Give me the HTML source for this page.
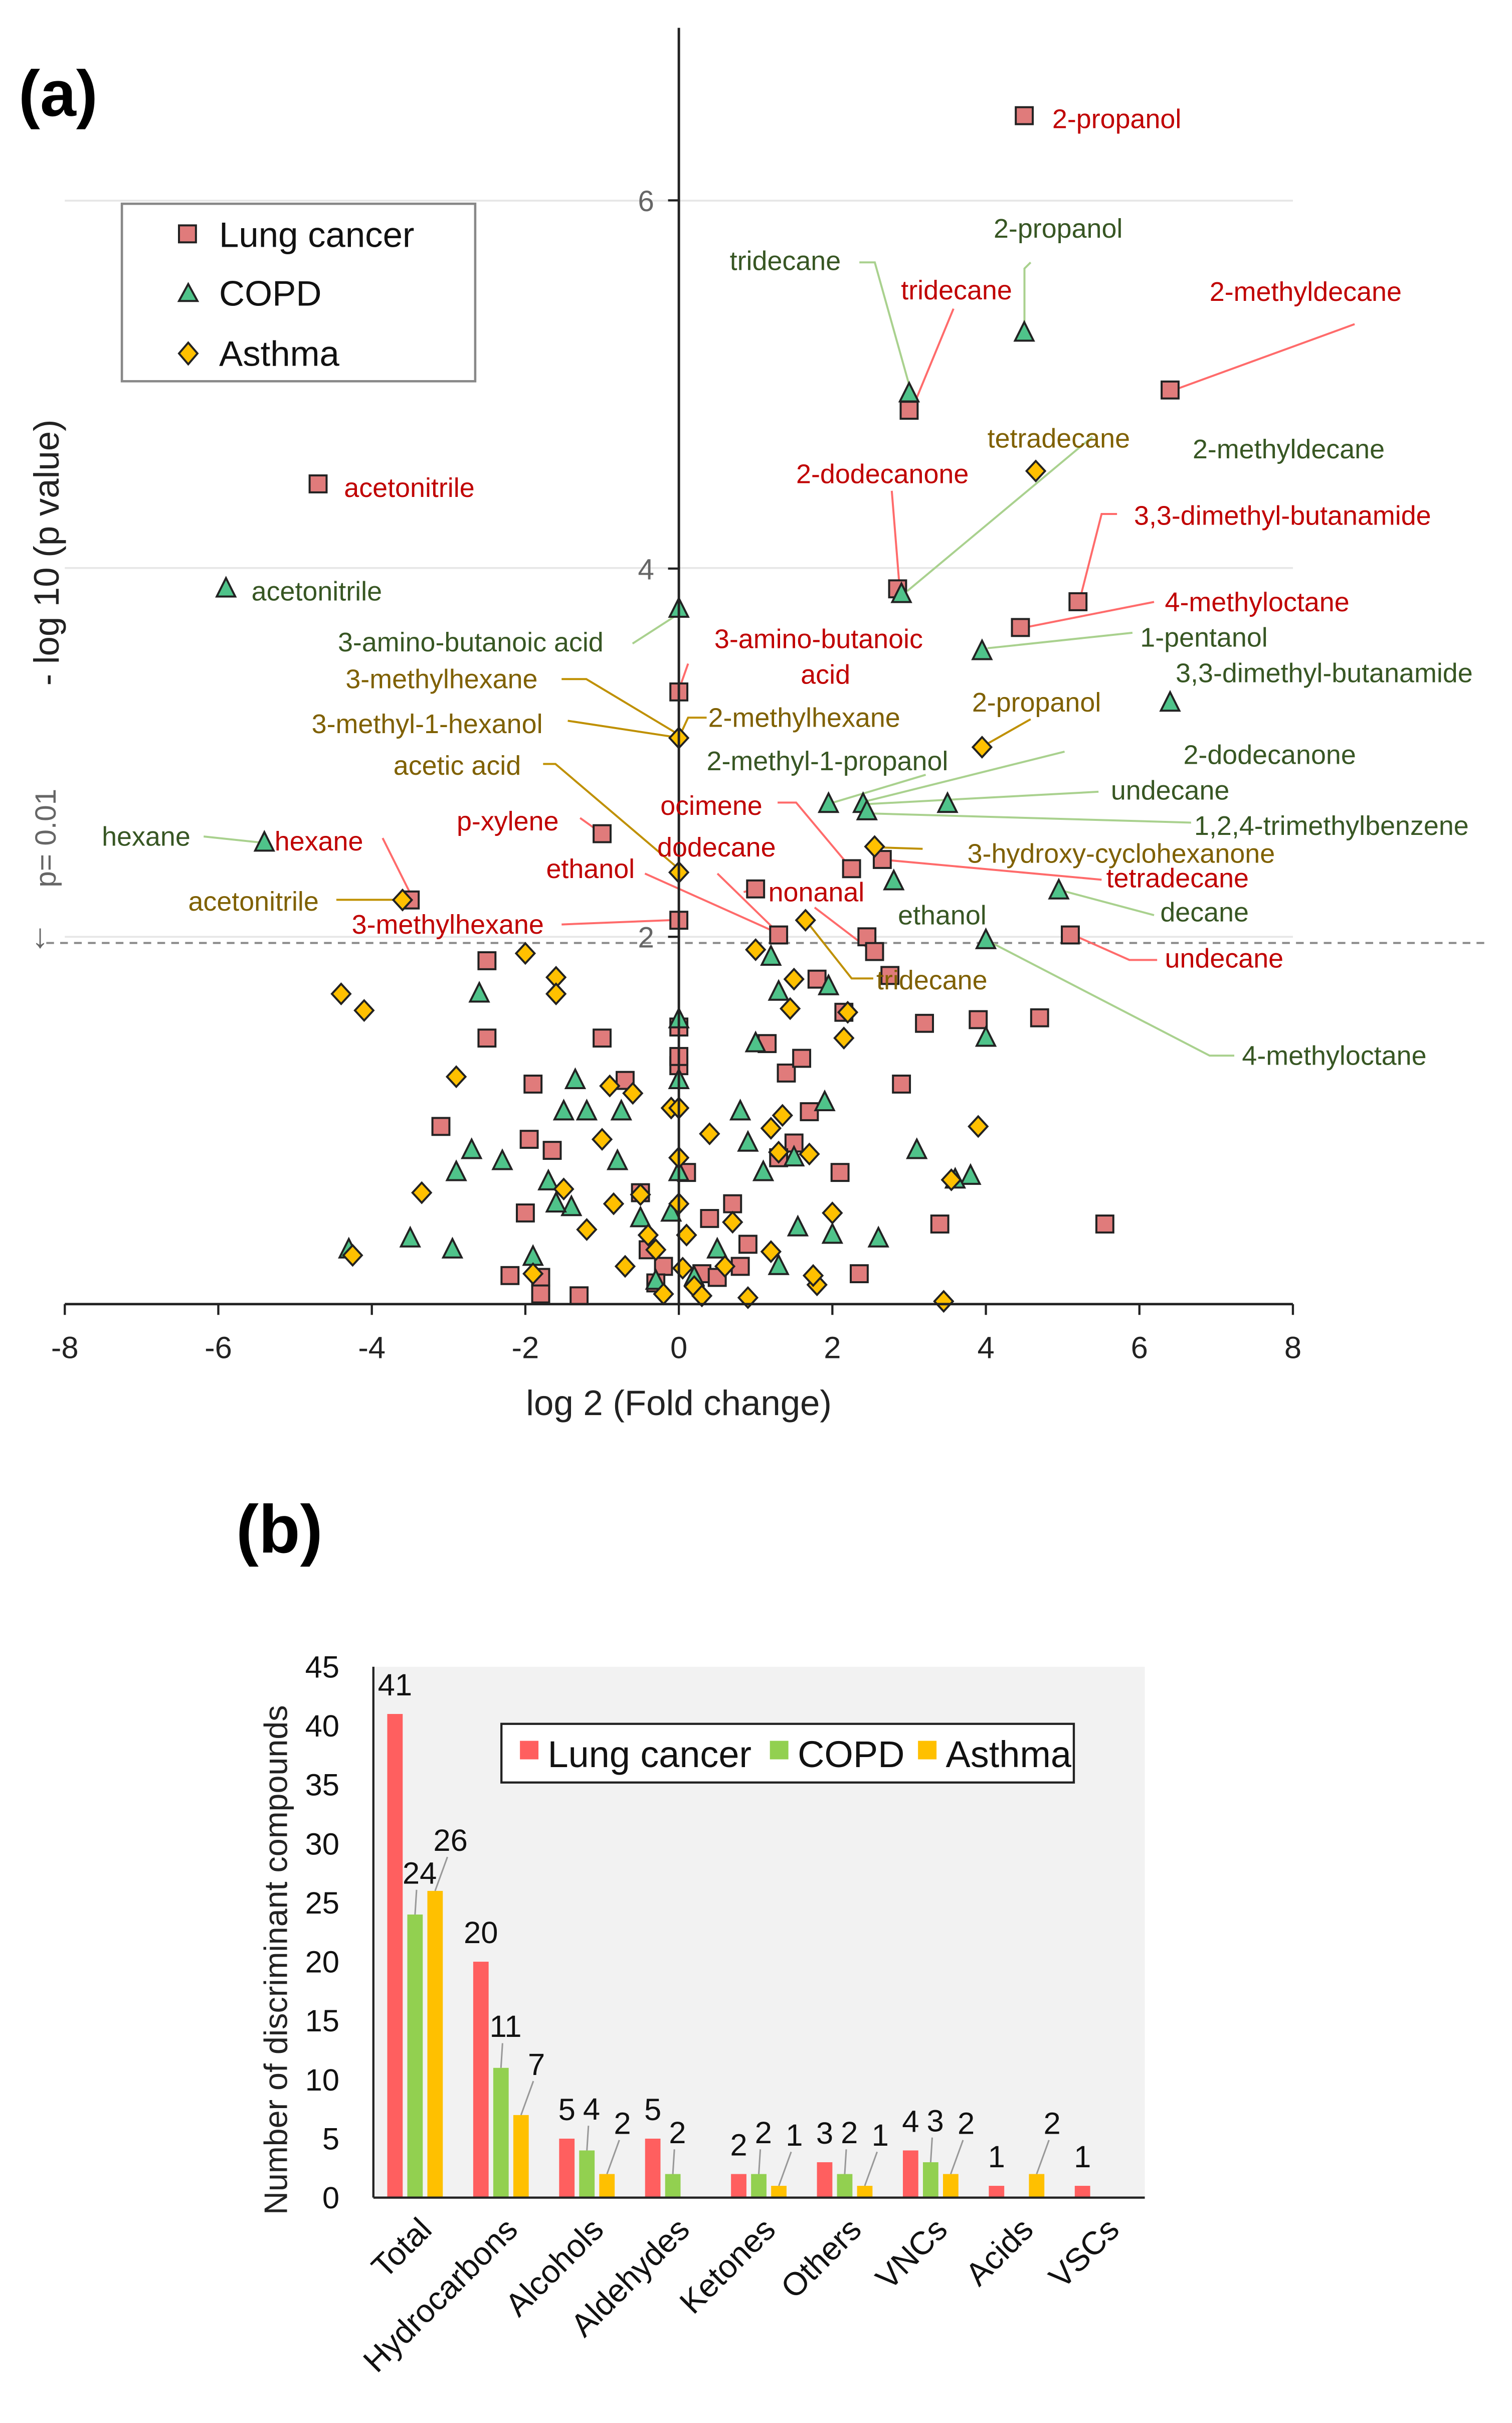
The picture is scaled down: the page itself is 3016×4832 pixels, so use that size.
<!DOCTYPE html>
<html><head><meta charset="utf-8">
<style>
html,body{margin:0;padding:0;background:#fff;}
svg{display:block;font-family:"Liberation Sans","DejaVu Sans",sans-serif;}
.r{fill:#c00000}.g{fill:#375623}.y{fill:#7f6000}
.lr{stroke:#ff6b6b;fill:none;stroke-width:1.3}.lg{stroke:#a9d18e;fill:none;stroke-width:1.3}.ly{stroke:#bf9000;fill:none;stroke-width:1.3}
</style></head>
<body>
<svg id="root" width="3016" height="4832" viewBox="0 0 980 1570" xmlns="http://www.w3.org/2000/svg">
<g id="pa">
  <text x="12" y="75" font-size="42" font-weight="bold">(a)</text>
  <line x1="42" y1="130" x2="838" y2="130" stroke="#e6e6e6" stroke-width="1.2"/>
  <line x1="42" y1="368" x2="838" y2="368" stroke="#e6e6e6" stroke-width="1.2"/>
  <line x1="42" y1="607" x2="838" y2="607" stroke="#e6e6e6" stroke-width="1.2"/>
  <line x1="30" y1="611" x2="962" y2="611" stroke="#888" stroke-width="1.3" stroke-dasharray="5,4"/>
  <g id="leaders"></g>
  <g id="marks"></g>
  <line x1="440" y1="18" x2="440" y2="845" stroke="#222" stroke-width="1.6"/>
  <line x1="42" y1="845" x2="838" y2="845" stroke="#222" stroke-width="1.6"/>
  <g id="xt"></g>
  <g id="yt"></g>
  <text x="440" y="917" font-size="23" text-anchor="middle" fill="#222">log 2 (Fold change)</text>
  <text transform="translate(38,358) rotate(-90)" font-size="23" text-anchor="middle" fill="#222">- log 10 (p value)</text>
  <text transform="translate(36,543) rotate(-90)" font-size="19" text-anchor="middle" fill="#666">p= 0.01</text>
  <text x="26" y="614" font-size="22" text-anchor="middle" fill="#666">↓</text>
  <g>
    <rect x="79" y="132" width="229" height="115" fill="#fff" stroke="#888" stroke-width="1.5"/>
    <rect x="116" y="146" width="11" height="11" fill="#e07b7b" stroke="#222" stroke-width="1.3"/>
    <text x="142" y="160" font-size="23" fill="#111">Lung cancer</text>
    <path d="M122,184 L128,195 L116,195Z" fill="#4fc38a" stroke="#222" stroke-width="1.3"/>
    <text x="142" y="198" font-size="23" fill="#111">COPD</text>
    <path d="M122,222 L128,229 L122,236 L116,229Z" fill="#ffc000" stroke="#222" stroke-width="1.3"/>
    <text x="142" y="237" font-size="23" fill="#111">Asthma</text>
  </g>
  <g id="labels" font-size="17.5">
    <text class="r" x="682" y="83">2-propanol</text>
    <text class="g" x="644" y="154">2-propanol</text>
    <text class="g" x="473" y="175">tridecane</text>
    <text class="r" x="584" y="194">tridecane</text>
    <text class="r" x="784" y="195">2-methyldecane</text>
    <text class="y" x="640" y="290">tetradecane</text>
    <text class="g" x="773" y="297">2-methyldecane</text>
    <text class="r" x="516" y="313">2-dodecanone</text>
    <text class="r" x="223" y="322">acetonitrile</text>
    <text class="r" x="735" y="340">3,3-dimethyl-butanamide</text>
    <text class="g" x="163" y="389">acetonitrile</text>
    <text class="r" x="755" y="396">4-methyloctane</text>
    <text class="g" x="219" y="422">3-amino-butanoic acid</text>
    <text class="r" x="463" y="420">3-amino-butanoic</text>
    <text class="r" x="519" y="443">acid</text>
    <text class="g" x="739" y="419">1-pentanol</text>
    <text class="y" x="224" y="446">3-methylhexane</text>
    <text class="g" x="762" y="442">3,3-dimethyl-butanamide</text>
    <text class="y" x="630" y="461">2-propanol</text>
    <text class="y" x="459" y="471">2-methylhexane</text>
    <text class="y" x="202" y="475">3-methyl-1-hexanol</text>
    <text class="g" x="767" y="495">2-dodecanone</text>
    <text class="g" x="458" y="499">2-methyl-1-propanol</text>
    <text class="y" x="255" y="502">acetic acid</text>
    <text class="g" x="720" y="518">undecane</text>
    <text class="r" x="428" y="528">ocimene</text>
    <text class="r" x="296" y="538">p-xylene</text>
    <text class="g" x="774" y="541">1,2,4-trimethylbenzene</text>
    <text class="g" x="66" y="548">hexane</text>
    <text class="r" x="178" y="551">hexane</text>
    <text class="r" x="426" y="555">dodecane</text>
    <text class="y" x="627" y="559">3-hydroxy-cyclohexanone</text>
    <text class="r" x="354" y="569">ethanol</text>
    <text class="r" x="717" y="575">tetradecane</text>
    <text class="r" x="498" y="584">nonanal</text>
    <text class="y" x="122" y="590">acetonitrile</text>
    <text class="g" x="752" y="597">decane</text>
    <text class="g" x="582" y="599">ethanol</text>
    <text class="r" x="228" y="605">3-methylhexane</text>
    <text class="r" x="755" y="627">undecane</text>
    <text class="y" x="568" y="641">tridecane</text>
    <text class="g" x="805" y="690">4-methyloctane</text>
  </g>
</g>

<g id="pb">
  <text x="153" y="1006" font-size="44" font-weight="bold">(b)</text>
  <rect x="242" y="1080" width="500" height="344" fill="#f2f2f2"/>
  <g id="bars"></g>
  <line x1="242" y1="1080" x2="242" y2="1424" stroke="#222" stroke-width="1.4"/>
  <line x1="242" y1="1424" x2="742" y2="1424" stroke="#222" stroke-width="1.4"/>
  <g id="byt"></g>
  <g id="bxt"></g>
  <text transform="translate(186,1270) rotate(-90)" font-size="21" text-anchor="middle" fill="#222">Number of discriminant compounds</text>
  <g>
    <rect x="325" y="1117" width="371" height="38" fill="#fff" stroke="#222" stroke-width="1.4"/>
    <rect x="337" y="1128" width="12" height="12" fill="#ff5f5f"/>
    <text x="355" y="1145" font-size="24" fill="#111">Lung cancer</text>
    <rect x="499" y="1128" width="12" height="12" fill="#92d050"/>
    <text x="517" y="1145" font-size="24" fill="#111">COPD</text>
    <rect x="595" y="1128" width="12" height="12" fill="#ffc000"/>
    <text x="613" y="1145" font-size="24" fill="#111">Asthma</text>
  </g>
</g>
</svg>
<script>
// ---- Volcano data: [log2 fold change, -log10 p] ----
const lungX=[4.5,6.4,3.0,-4.7,2.85,5.2,4.45,0,-1.0,2.25,2.65,1.0,-3.5,0,1.3,5.1,2.45,2.55,-2.5,-2.5,-1.0,-1.9,-3.1,-1.95,-1.65,-2.0,-2.2,-1.8,-1.8,-1.3,-0.7,-0.5,-0.4,-0.2,0,0,0,0.1,0.4,0.7,0.8,0.3,1.15,1.4,1.6,1.8,1.7,1.5,2.15,2.1,2.35,2.75,2.9,3.2,3.4,3.9,4.7,5.55,1.3,0.9,-0.3,0.5];
const lungY=[6.46,4.97,4.86,4.46,3.89,3.82,3.68,3.33,2.56,2.37,2.42,2.26,2.2,2.09,2.01,2.01,2.0,1.92,1.87,1.45,1.45,1.2,0.97,0.9,0.84,0.5,0.16,0.15,0.06,0.05,1.22,0.61,0.3,0.21,1.3,1.35,1.51,0.72,0.47,0.55,0.21,0.17,1.42,1.26,1.34,1.77,1.05,0.88,1.59,0.72,0.17,1.79,1.2,1.53,0.44,1.55,1.56,0.44,0.8,0.33,0.12,0.15];
const copdX=[4.5,3.0,2.9,0,-5.9,3.95,6.4,1.95,2.4,2.45,3.5,-5.4,2.8,4.95,4.0,-4.3,-3.5,-2.95,-2.9,-2.7,-2.3,-2.6,-1.7,-1.5,-1.4,-1.35,-1.2,-0.8,-0.75,-1.9,-1.6,-0.5,-0.3,0,0,0,0.5,0.8,0.9,1.0,1.1,1.3,1.5,1.55,1.9,1.95,2.0,2.6,3.1,3.8,4.0,3.6,1.2,1.3,0.2,-0.1];
const copdY=[5.28,4.95,3.86,3.78,3.89,3.55,3.27,2.72,2.72,2.68,2.72,2.51,2.3,2.25,1.98,0.3,0.36,0.3,0.72,0.84,0.78,1.69,0.67,1.05,0.53,1.22,1.05,0.78,1.05,0.26,0.55,0.47,0.13,1.22,1.55,0.72,0.3,1.05,0.88,1.42,0.72,0.21,0.8,0.42,1.1,1.73,0.38,0.36,0.84,0.7,1.45,0.68,1.89,1.7,0.15,0.5];
const asthX=[4.65,0,3.95,2.55,-3.6,0,1.65,-4.4,-4.1,-4.25,-3.35,-2.9,-2.0,-1.6,-1.6,-0.9,-0.6,-0.1,-0.85,-0.4,-1.5,-1.2,-0.7,-0.2,0,0,0,0.1,0.4,0.6,0.9,1.2,1.2,1.35,1.3,1.7,1.8,1.75,2.0,2.2,1.45,1.0,1.5,2.15,3.55,3.9,3.45,-1.9,0.2,-0.3,0.7,0.3,-0.5,-1.0,0.05];
const asthY=[4.53,3.08,3.03,2.49,2.2,2.35,2.09,1.69,1.6,0.27,0.61,1.24,1.91,1.78,1.69,1.19,1.15,1.07,0.55,0.38,0.63,0.41,0.21,0.06,1.07,0.8,0.55,0.38,0.93,0.21,0.04,0.29,0.96,1.03,0.83,0.82,0.11,0.16,0.5,1.59,1.61,1.93,1.77,1.45,0.68,0.97,0.02,0.17,0.1,0.3,0.45,0.05,0.6,0.9,0.2];
const xTicks=[-8,-6,-4,-2,0,2,4,6,8];
const yTicks=[2,4,6];
// ---- Bar data ----
const cats=["Total","Hydrocarbons","Alcohols","Aldehydes","Ketones","Others","VNCs","Acids","VSCs"];
const lungVals=[41,20,5,5,2,3,4,1,1];
const copdVals=[24,11,4,2,2,2,3,0,0];
const asthVals=[26,7,2,0,1,1,2,2,0];
const barTicks=[0,5,10,15,20,25,30,35,40,45];

const NS="http://www.w3.org/2000/svg";
function mk(tag,attrs,parent){const e=document.createElementNS(NS,tag);for(const k in attrs)e.setAttribute(k,attrs[k]);parent.appendChild(e);return e;}
const sx=v=>440+v*49.75, sy=v=>845.6-v*119.3;
const marks=document.getElementById('marks');
lungX.forEach((x,i)=>{const cx=sx(x),cy=sy(lungY[i]);
  const e=mk('rect',{x:cx-5.5,y:cy-5.5,width:11,height:11,fill:'#e07b7b',stroke:'#222','stroke-width':1.3},marks);
  
  });
copdX.forEach((x,i)=>{const cx=sx(x),cy=sy(copdY[i]);
  const e=mk('path',{d:`M${cx},${cy-7}L${cx+6},${cy+5}L${cx-6},${cy+5}Z`,fill:'#4fc38a',stroke:'#222','stroke-width':1.3},marks);
  
  });
asthX.forEach((x,i)=>{const cx=sx(x),cy=sy(asthY[i]);
  const e=mk('path',{d:`M${cx},${cy-6.5}L${cx+6},${cy}L${cx},${cy+6.5}L${cx-6},${cy}Z`,fill:'#ffc000',stroke:'#222','stroke-width':1.3},marks);
  
  });
const xt=document.getElementById('xt');
xTicks.forEach(t=>{mk('line',{x1:sx(t),y1:845,x2:sx(t),y2:852,stroke:'#222','stroke-width':1.4},xt);
  const e=mk('text',{x:sx(t),y:880,'font-size':20,'text-anchor':'middle',fill:'#222'},xt);e.textContent=t;
  
  });
const yt=document.getElementById('yt');
yTicks.forEach(t=>{mk('line',{x1:433,y1:sy(t),x2:440,y2:sy(t),stroke:'#222','stroke-width':1.4},yt);
  const e=mk('text',{x:424,y:sy(t)+7,'font-size':19,'text-anchor':'end',fill:'#666'},yt);e.textContent=t;
  
  });
// leader lines (label anchor -> point)
const L=document.getElementById('leaders');
const leaders=[
 ['lg',[[668,170],[664,174],[664,210]]],['lg',[[557,170],[567,170],[590,252]]],['lr',[[618,200],[592,263]]],
 ['lr',[[878,210],[760,253]]],['lg',[[708,283],[588,383]]],['lr',[[578,318],[583,380]]],
 ['lr',[[724,333],[714,333],[700,388]]],['lr',[[748,390],[662,407]]],['lg',[[734,410],[640,420]]],
 ['lg',[[410,417],[441,397]]],['lr',[[446,430],[440,447]]],['ly',[[364,440],[380,440],[440,476]]],
 ['ly',[[458,465],[446,465],[440,478]]],['ly',[[368,467],[440,478]]],['ly',[[668,466],[638,483]]],
 ['lg',[[690,487],[562,519]]],['lg',[[712,513],[562,521]]],['lg',[[772,533],[562,527]]],['lg',[[600,502],[540,520]]],
 ['ly',[[352,495],[360,495],[440,563]]],['lr',[[504,520],[516,520],[552,563]]],['lr',[[376,530],[390,540]]],
 ['lg',[[132,542],[170,546]]],['lr',[[248,543],[268,583]]],['ly',[[598,550],[567,549]]],['lr',[[418,566],[505,605]]],
 ['lr',[[714,570],[572,557]]],['lr',[[482,578],[490,576]]],['ly',[[218,583],[262,583]]],['lg',[[748,593],[688,577]]],
 ['lr',[[364,599],[440,596]]],['lr',[[528,588],[566,617]]],['lr',[[750,622],[732,622],[696,606]]],
 ['ly',[[566,634],[552,634],[522,596]]],['lg',[[800,684],[784,684],[641,610]]],['lr',[[465,566],[505,605]]]
];
leaders.forEach(([c,pts])=>{const e=mk('polyline',{points:pts.map(p=>p.join(',')).join(' '),class:c},L);
  
  });
document.querySelectorAll('#labels text').forEach(t=>{});
// bars
const by=v=>1424-v*7.644, gx=i=>269+i*55.7;
const B=document.getElementById('bars');
const series=[[lungVals,'#ff5f5f',-13],[copdVals,'#92d050',0],[asthVals,'#ffc000',13]];
series.forEach(([vals,col,off],si)=>{vals.forEach((v,i)=>{
  if(v>0){const e=mk('rect',{x:gx(i)+off-5,y:by(v),width:10,height:1424-by(v),fill:col},B);
  
  }
  if(v>0||(si===1&&i<7)){const lx=gx(i)+off+(si===0?0:si===1?3:10), ly=by(v)-(si===0?12:si===1?20:26);
  if(si>0) mk('line',{x1:gx(i)+off,y1:by(v),x2:lx-2,y2:ly+4,stroke:'#999','stroke-width':1},B);
  const t=mk('text',{x:lx,y:ly,'font-size':20,'text-anchor':'middle',fill:'#111'},B);t.textContent=v;
  
  }
});});
const BY=document.getElementById('byt');
barTicks.forEach(t=>{const e=mk('text',{x:220,y:by(t)+7,'font-size':20,'text-anchor':'end',fill:'#111'},BY);e.textContent=t;
  
  });
const BX=document.getElementById('bxt');
cats.forEach((c,i)=>{const e=mk('text',{transform:`translate(${gx(i)+12},1446) rotate(-45)`,'font-size':21,'text-anchor':'end',fill:'#111'},BX);e.textContent=c;
  
  });
</script>
</body></html>
